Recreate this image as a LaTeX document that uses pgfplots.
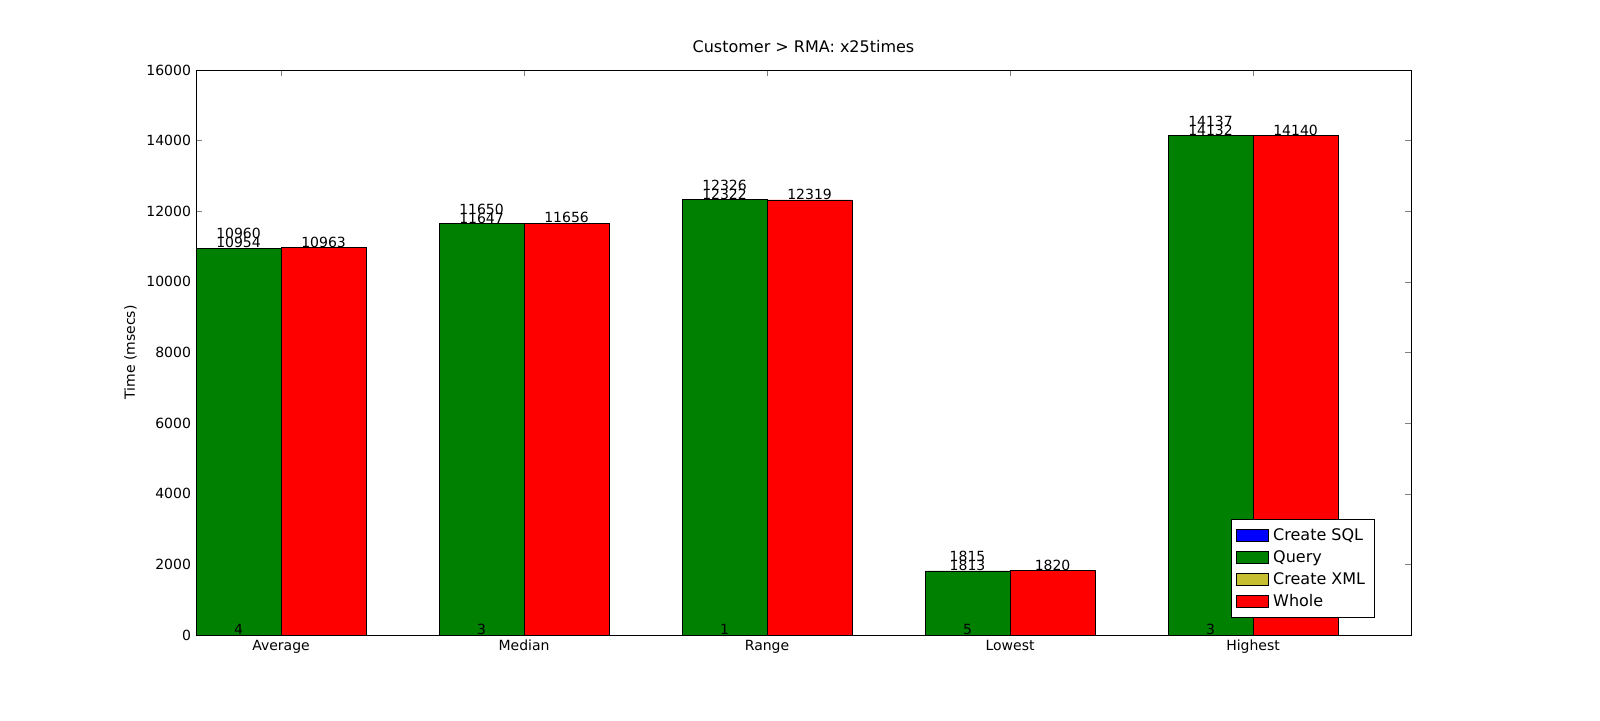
\documentclass[border=0pt]{standalone}
\usepackage{pgfplots}
\pgfplotsset{compat=1.18}
\usepackage{fontspec}
\setmainfont{DejaVu Sans}
\begin{document}
\fontsize{7}{8}\selectfont
\begin{tikzpicture}
\begin{axis}[at={(0,0)},anchor=south west,scale only axis,width=607.5pt,height=282.5pt,
 xmin=0,xmax=5,ymin=0,ymax=16000,scaled ticks=false,
 xtick={0.35,1.35,2.35,3.35,4.35},xticklabels={Average,Median,Range,Lowest,Highest},
 ytick={0,2000,...,16000},
 /pgf/number format/1000 sep={},/pgf/number format/assume math mode=true,
 tick align=inside,tick pos=both,major tick length=3pt,
 title={\fontsize{8}{9}\selectfont Customer > RMA: x25times},
 ylabel={Time (msecs)},
 legend pos=south east,
 legend style={font=\fontsize{8}{10}\selectfont,draw=black,rounded corners=0pt,inner sep=2.5pt},
 legend cell align=left,
 legend image code/.code={\draw[#1,draw=black] (0pt,-3pt) rectangle (16pt,3pt);},
]
\addlegendimage{fill=blue}\addlegendentry{Create SQL}
\addlegendimage{fill=green!50!black}\addlegendentry{Query}
\addlegendimage{fill=yellow!75!black}\addlegendentry{Create XML}
\addlegendimage{fill=red}\addlegendentry{Whole}
\addplot[ybar,bar width=0.35,bar shift=0,fill=green!50!black,draw=black,forget plot]
 coordinates {(0.175,10958) (1.175,11650) (2.175,12324) (3.175,1815) (4.175,14137)};
\addplot[ybar,bar width=0.35,bar shift=0,fill=red,draw=black,forget plot]
 coordinates {(0.525,10963) (1.525,11656) (2.525,12319) (3.525,1820) (4.525,14140)};
\addplot[draw=none,forget plot,nodes near coords,point meta=explicit symbolic,
 every node near coord/.style={anchor=south,inner sep=0pt}]
 table[meta=l]{
x y l
0.175 10958 10954
1.175 11650 11647
2.175 12324 12322
3.175 1815 1813
4.175 14137 14132
0.525 10963 10963
1.525 11656 11656
2.525 12319 12319
3.525 1820 1820
4.525 14140 14140
0.175 0 4
1.175 0 3
2.175 0 1
3.175 0 5
4.175 0 3
};
\addplot[draw=none,forget plot,nodes near coords,point meta=explicit symbolic,
 every node near coord/.style={anchor=south,inner sep=0pt,yshift=4.5pt}]
 table[meta=l]{
x y l
0.175 10958 10960
1.175 11650 11650
2.175 12324 12326
3.175 1815 1815
4.175 14137 14137
};
\end{axis}
\pgfresetboundingbox
\path (-98pt,-42.5pt) rectangle (702pt,317.5pt);
\end{tikzpicture}
\end{document}
